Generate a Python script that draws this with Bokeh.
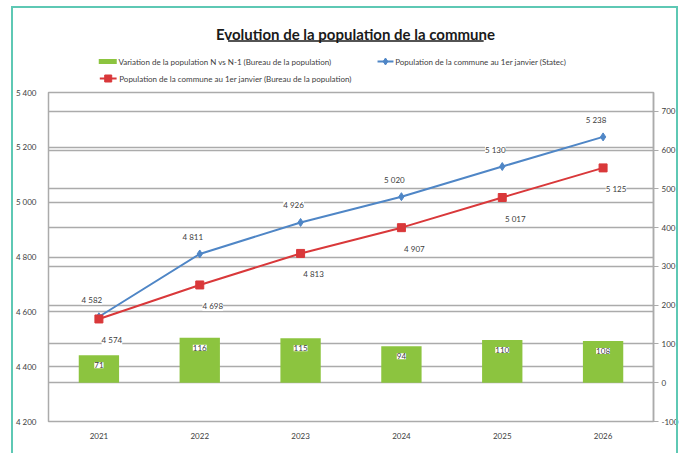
from bokeh.plotting import figure
from bokeh.layouts import column
from bokeh.models import (Range1d, LinearAxis, FixedTicker, Grid, ColumnDataSource,
                          LabelSet, FactorRange, InlineStyleSheet)
from bokeh.core.properties import value
from bokeh.embed import file_html
from bokeh.resources import INLINE

# ---- data ----
years = ["2021", "2022", "2023", "2024", "2025", "2026"]
variation = [71, 116, 115, 94, 110, 108]
pop_statec = [4582, 4811, 4926, 5020, 5130, 5238]
pop_bureau = [4574, 4698, 4813, 4907, 5017, 5125]

left_ticks = [4200, 4400, 4600, 4800, 5000, 5200, 5400]
left_tick_labels = ["4 200", "4 400", "4 600", "4 800", "5 000", "5 200", "5 400"]
right_ticks = [-100, 0, 100, 200, 300, 400, 500, 600, 700]
right_tick_labels = ["-100", "0", "100", "200", "300", "400", "500", "600", "700"]

title_text = "Evolution de la population de la commune"
name_var = "Variation de la population N vs N-1 (Bureau de la population)"
name_statec = "Population de la commune au 1er janvier (Statec)"
name_bureau = "Population de la commune au 1er janvier (Bureau de la population)"

FONT = "Lato"
GREEN = "#8cc43f"
BLUE = "#4f86c6"
RED = "#d9383a"
GRID = "#ababab"
TXT = "#404040"
TEAL = "#5ec8b4"

W = 684
HEAD_H = 86
MAIN_H = 364


def fmt(v):
    return f"{v:,}".replace(",", " ")


# ---------------- header (title + legend) ----------------
h = figure(width=W, height=HEAD_H, x_range=Range1d(0, W), y_range=Range1d(HEAD_H, 0),
           x_axis_type=None, y_axis_type=None, output_backend="svg",
           toolbar_location=None, min_border=0)
h.grid.visible = False
h.outline_line_color = None
h.background_fill_color = "white"
h.border_fill_color = "white"

h.text(x=[347], y=[33], text=[title_text], text_font=value(FONT),
       text_font_style="bold", text_font_size="15px", text_color="#1a1a1a",
       text_align="center", text_baseline="middle")
h.segment(x0=[203], y0=[40.5], x1=[492], y1=[40.5], line_color="#1a1a1a", line_width=1.3)

leg_txt = dict(text_font=value(FONT), text_font_size="8px", text_color=TXT,
               text_align="left", text_baseline="middle")
# green bar item
h.rect(x=[67], y=[61], width=18, height=5, width_units="screen", height_units="screen",
       fill_color=GREEN, line_color=None)
h.text(x=[79], y=[61], text=[name_var], **leg_txt)
# blue item
h.segment(x0=[372], y0=[61], x1=[390], y1=[61], line_color=BLUE, line_width=2)
h.scatter(x=[381], y=[61], marker="diamond", size=7, fill_color=BLUE, line_color=BLUE)
h.text(x=[392], y=[61], text=[name_statec], **leg_txt)
# red item
h.segment(x0=[58], y0=[78], x1=[77], y1=[78], line_color=RED, line_width=2)
h.scatter(x=[67.5], y=[78], marker="square", size=7, fill_color=RED, line_color=RED)
h.text(x=[80], y=[78], text=[name_bureau], **leg_txt)

# ---------------- main chart ----------------
p = figure(width=W, height=MAIN_H, x_range=FactorRange(*years),
           y_range=Range1d(4200, 5400), output_backend="svg",
           toolbar_location=None, min_border_left=48, min_border_right=W - 653,
           min_border_top=6, min_border_bottom=29)
p.extra_y_ranges = {"var": Range1d(-100, 749)}

p.background_fill_color = "white"
p.border_fill_color = "white"
p.outline_line_color = GRID
p.outline_line_width = 1.5

p.yaxis.ticker = FixedTicker(ticks=left_ticks)
p.yaxis.major_label_overrides = dict(zip(left_ticks, left_tick_labels))
for ax in [p.yaxis[0], p.xaxis[0]]:
    ax.axis_line_color = GRID
    ax.major_tick_line_color = None
    ax.minor_tick_line_color = None
    ax.major_label_text_font = FONT
    ax.major_label_text_font_size = "8px"
    ax.major_label_text_color = TXT
p.yaxis.major_label_standoff = 6
p.xaxis.major_label_standoff = 5

raxis = LinearAxis(y_range_name="var", ticker=FixedTicker(ticks=right_ticks))
raxis.major_label_overrides = dict(zip(right_ticks, right_tick_labels))
raxis.axis_line_color = GRID
raxis.axis_line_width = 1.5
raxis.major_tick_line_color = GRID
raxis.major_tick_out = 5
raxis.major_tick_in = 0
raxis.minor_tick_line_color = None
raxis.major_label_text_font = FONT
raxis.major_label_text_font_size = "8px"
raxis.major_label_text_color = TXT
raxis.major_label_standoff = 3
p.add_layout(raxis, "right")

p.xgrid.grid_line_color = None
p.ygrid.ticker = FixedTicker(ticks=left_ticks)
p.ygrid.grid_line_color = GRID
p.ygrid.grid_line_width = 1.5
rgrid = Grid(dimension=1, ticker=FixedTicker(ticks=right_ticks), y_range_name="var",
             grid_line_color=GRID, grid_line_width=1.5)
p.add_layout(rgrid)

src = ColumnDataSource(dict(
    x=years, var=variation, statec=pop_statec, bureau=pop_bureau,
    var_lbl=[str(v) for v in variation],
    statec_lbl=[fmt(v) for v in pop_statec],
    bureau_lbl=[fmt(v) for v in pop_bureau],
))

p.vbar(x="x", top="var", bottom=0, width=0.4, source=src, y_range_name="var",
       fill_color=GREEN, line_color=None)
p.line("x", "statec", source=src, line_color=BLUE, line_width=2)
p.scatter("x", "statec", source=src, marker="diamond", size=8,
          fill_color=BLUE, line_color=BLUE)
p.line("x", "bureau", source=src, line_color=RED, line_width=2)
p.scatter("x", "bureau", source=src, marker="square", size=8,
          fill_color=RED, line_color=RED)

lbl_common = dict(source=src, text_font=value(FONT), text_font_size="8px",
                  text_color=TXT, text_align="center", text_baseline="middle",
                  background_fill_color="white", background_fill_alpha=1.0)
p.add_layout(LabelSet(x="x", y="var", text="var_lbl", y_range_name="var",
                      y_offset=-10, **lbl_common))
p.add_layout(LabelSet(x="x", y="statec", text="statec_lbl", x_offset=-7, y_offset=17,
                      **lbl_common))
p.add_layout(LabelSet(x="x", y="bureau", text="bureau_lbl", x_offset=13, y_offset=-21,
                      **lbl_common))

frame_css = InlineStyleSheet(css=f"""
:host {{ position: relative; }}
:host::after {{
  content: "";
  position: absolute;
  left: 11px; top: 6px; width: 667px; height: 480px;
  border: 2px solid {TEAL};
  pointer-events: none;
  box-sizing: border-box;
}}
""")

layout = column(h, p, spacing=0, stylesheets=[frame_css])

open("out.html", "w").write(file_html(layout, INLINE))
